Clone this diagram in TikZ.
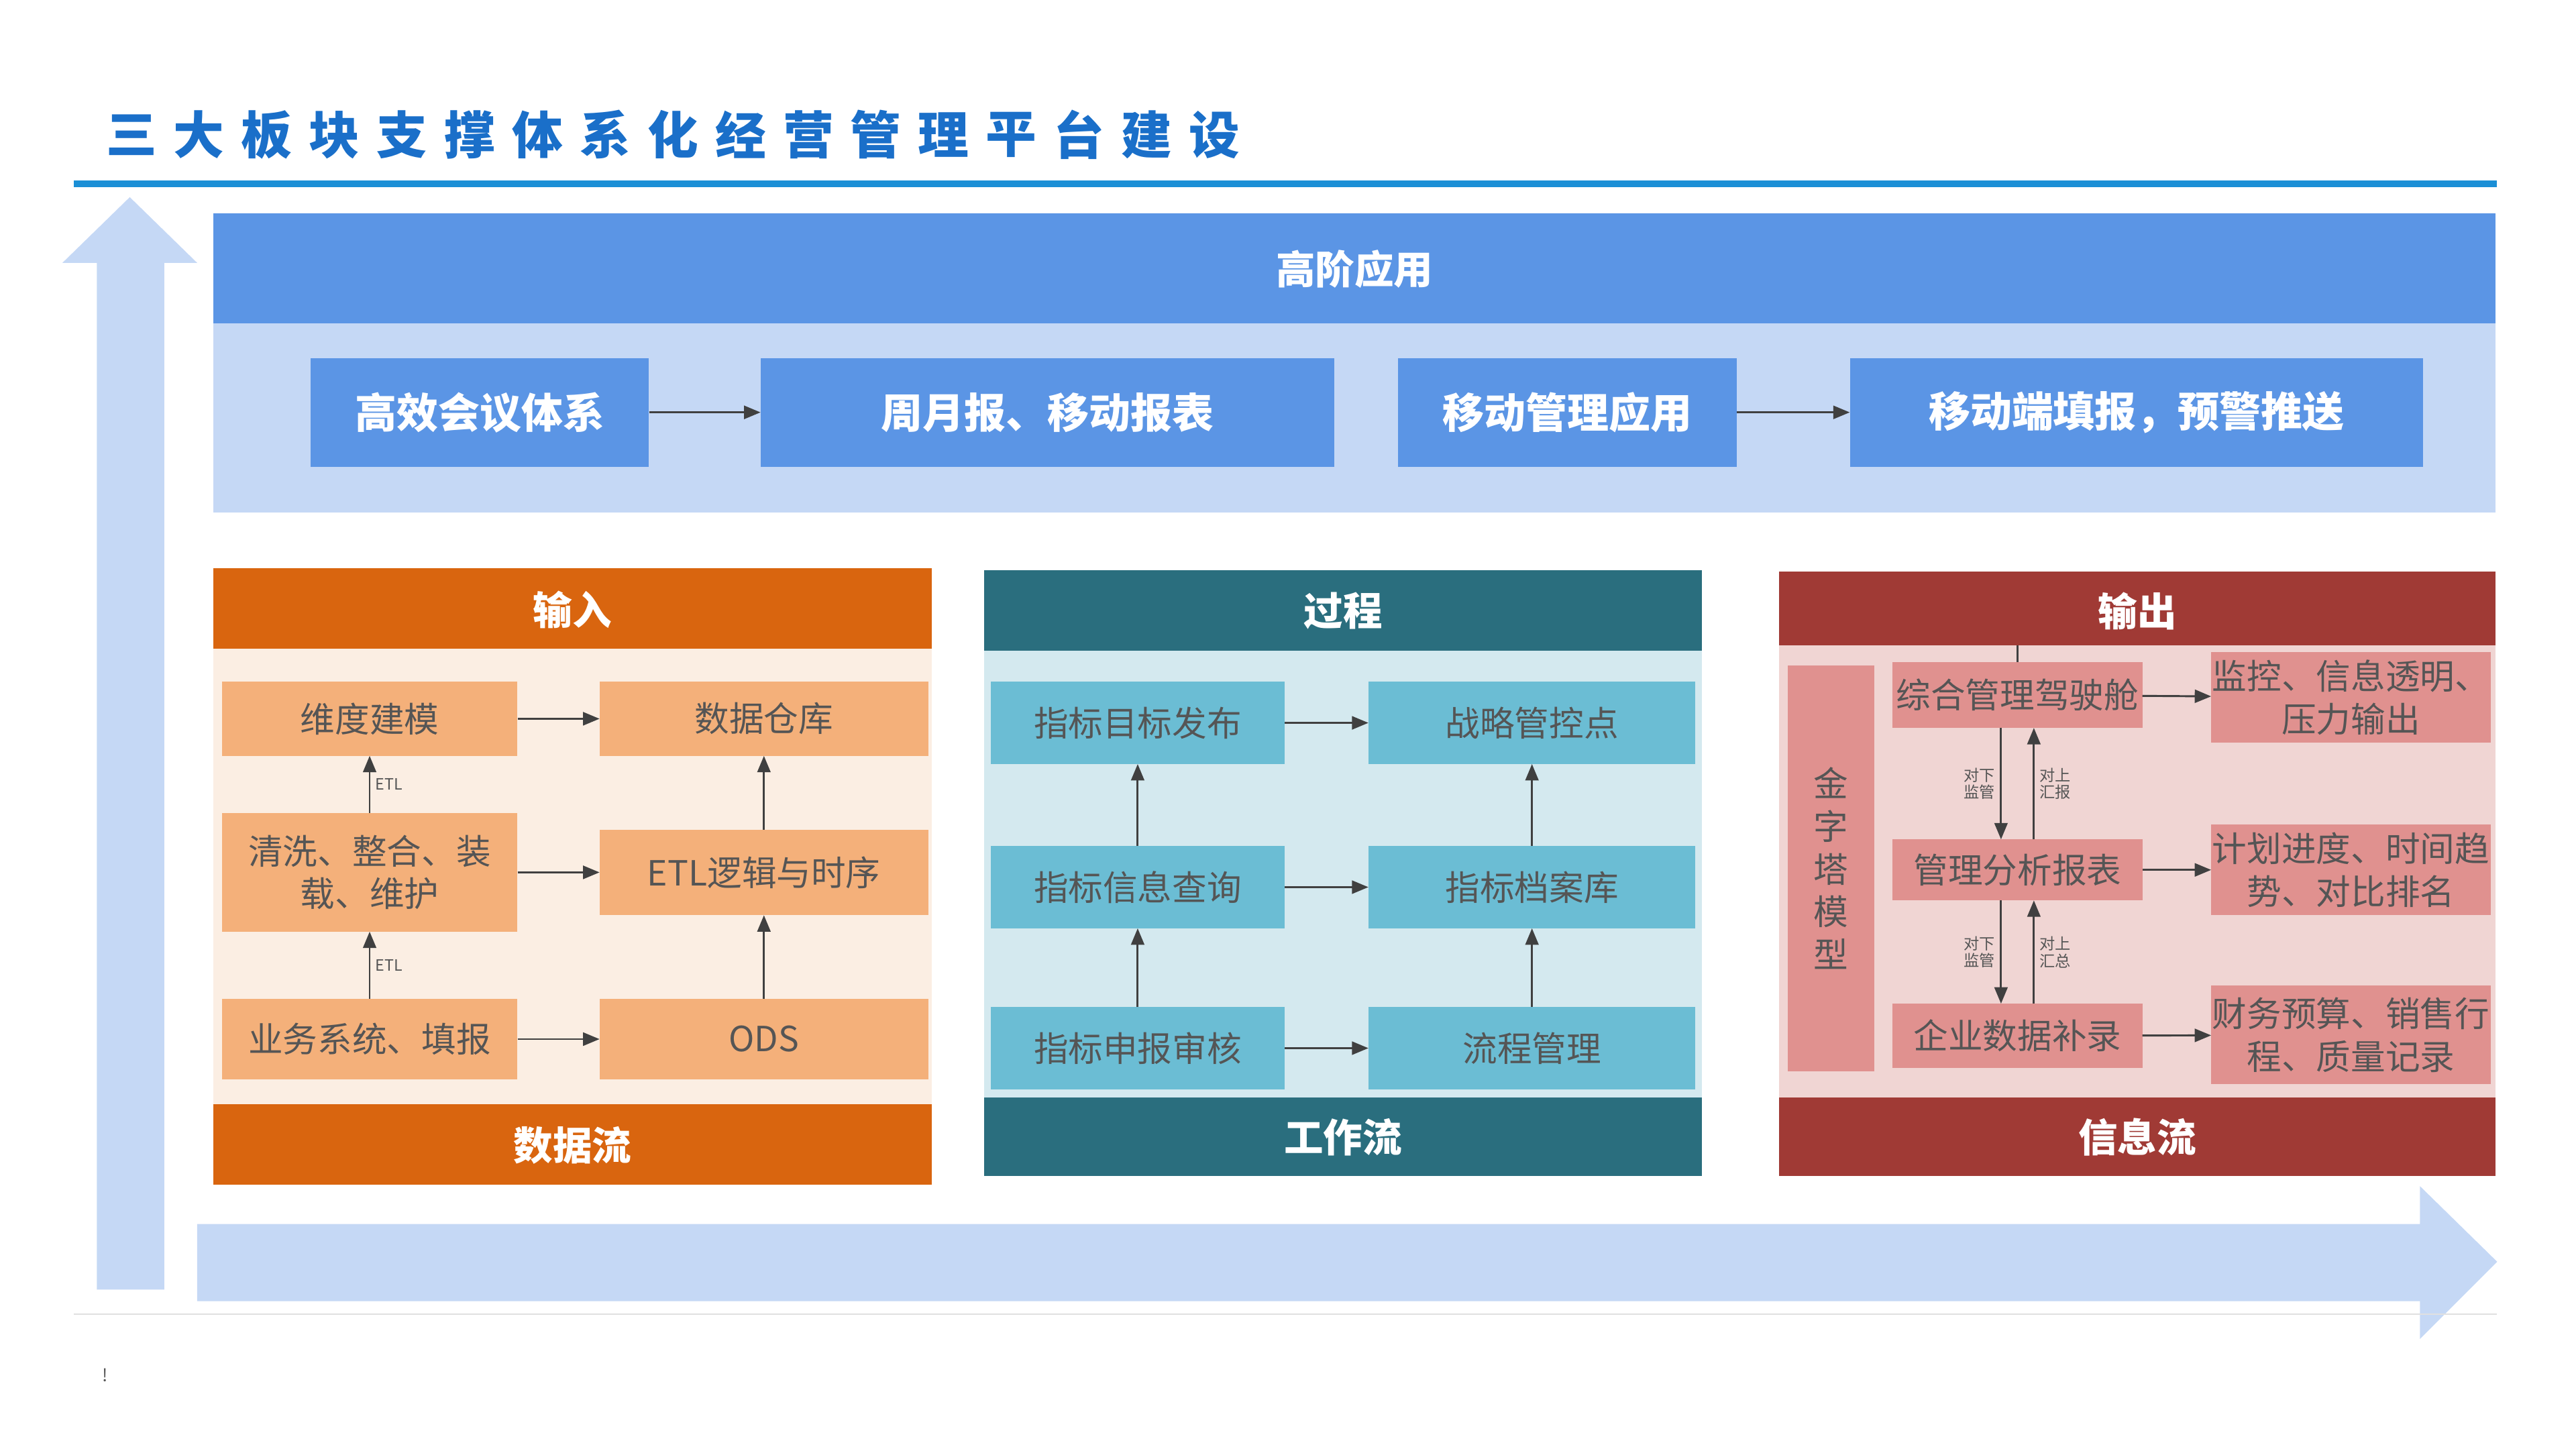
\documentclass[tikz,border=0pt]{standalone}
\usepackage{fontspec}
\setmainfont{Noto Sans CJK SC}
\usepackage{tikz}
\usetikzlibrary{arrows.meta}
\definecolor{titleblue}{HTML}{1A6FC9}
\definecolor{lineblue}{HTML}{1B8FD6}
\definecolor{paleblue}{HTML}{C5D8F5}
\definecolor{midblue}{HTML}{5B95E5}
\definecolor{orhead}{HTML}{D9650F}
\definecolor{orbody}{HTML}{FBEEE3}
\definecolor{orbox}{HTML}{F4B07A}
\definecolor{tlhead}{HTML}{2A6E7E}
\definecolor{tlbody}{HTML}{D4E9EF}
\definecolor{tlbox}{HTML}{6BBDD4}
\definecolor{rdhead}{HTML}{A03A35}
\definecolor{rdbody}{HTML}{F0D5D3}
\definecolor{rdbox}{HTML}{E0918F}
\definecolor{ink}{HTML}{555555}
\tikzset{
  hdtext/.style={text=white,font=\fontsize{68}{68}\selectfont\bfseries},
  bluebox/.style={fill=midblue,inner sep=0,text=white,font=\fontsize{72}{72}\selectfont\bfseries},
  panelbox/.style={inner sep=0,text=ink,align=center,font=\fontsize{60}{74}\selectfont},
  smalltxt/.style={text=ink,align=center,inner sep=0,font=\fontsize{27}{30}\selectfont},
  flow/.style={-{Triangle[length=10mm,width=8mm]},line width=1.2mm,black!75},
}
\begin{document}
\begin{tikzpicture}[x=1mm,y=-1mm]
            \useasboundingbox (0,0) rectangle (1568,882);
            % Title
            \foreach \c [count=\i] in {三,大,板,块,支,撑,体,系,化,经,营,管,理,平,台,建,设}
              \node[text=titleblue,font=\fontsize{88}{88}\selectfont\bfseries] (t\i) at (80+41.2*\i-41.2,82) {\c};
            \draw[lineblue,line width=4mm] (45,112) -- (1520,112);

            % Big arrows
            \fill[paleblue] (59,785) -- (59,160) -- (38,160) -- (79,120) -- (120,160) -- (100,160) -- (100,785) -- cycle;
            \fill[paleblue] (120,745) -- (1473,745) -- (1473,722) -- (1520,768) -- (1473,815) -- (1473,792) -- (120,792) -- cycle;
            \draw[black!12,line width=1mm] (45,800) -- (1520,800);
            \node[text=ink,font=\fontsize{30}{30}\selectfont] (mark) at (64,837) {!};

            % High level applications
            \fill[paleblue] (130,130) rectangle (1519,312);
            \fill[midblue] (130,130) rectangle (1519,197);
            \node[hdtext] (high) at (824.5,164) {高阶应用};
            \node[bluebox,minimum width=206mm,minimum height=66mm] (a1) at (292,251) {高效会议体系};
            \node[bluebox,minimum width=349mm,minimum height=66mm] (a2) at (637.5,251) {周月报、移动报表};
            \node[bluebox,minimum width=206mm,minimum height=66mm] (a3) at (954,251) {移动管理应用};
            \node[bluebox,minimum width=349mm,minimum height=66mm] (a4) at (1300.5,251) {移动端填报，预警推送};
            \draw[flow] (a1) -- (a2);
            \draw[flow] (a3) -- (a4);

            % Input / data flow
            \fill[orbody] (130,395) rectangle (567,672);
            \fill[orhead] (130,346) rectangle (567,395);
            \fill[orhead] (130,672) rectangle (567,721);
            \node[hdtext] (inhd) at (348.5,371) {输入};
            \node[hdtext] (inft) at (348.5,697) {数据流};
            \begin{scope}[every node/.append style={panelbox,fill=orbox}]
              \node[minimum width=180mm,minimum height=45mm] (d1) at (225,437.5) {维度建模};
              \node[minimum width=200mm,minimum height=45mm] (w1) at (465,437.5) {数据仓库};
              \node[minimum width=180mm,minimum height=72mm] (d2) at (225,531) {清洗、整合、装\\载、维护};
              \node[minimum width=200mm,minimum height=52mm] (w2) at (465,531) {ETL逻辑与时序};
              \node[minimum width=180mm,minimum height=49mm] (d3) at (225,632.5) {业务系统、填报};
              \node[minimum width=200mm,minimum height=49mm] (w3) at (465,632.5) {ODS};
            \end{scope}
            \draw[flow] (d1) -- (w1);
            \draw[flow] (d2) -- (w2);
            \draw[flow] (d3) -- (w3);
            \draw[flow] (d2) -- node[smalltxt,right=3mm] (etl1) {ETL} (d1);
            \draw[flow] (d3) -- node[smalltxt,right=3mm] (etl2) {ETL} (d2);
            \draw[flow] (w2) -- (w1);
            \draw[flow] (w3) -- (w2);

            % Process / work flow
            \fill[tlbody] (599,396) rectangle (1036,668);
            \fill[tlhead] (599,347) rectangle (1036,396);
            \fill[tlhead] (599,668) rectangle (1036,716);
            \node[hdtext] (prhd) at (817.5,372) {过程};
            \node[hdtext] (prft) at (817.5,692) {工作流};
            \begin{scope}[every node/.append style={panelbox,fill=tlbox}]
              \node[minimum width=179mm,minimum height=50mm] (p1) at (692.5,440) {指标目标发布};
              \node[minimum width=199mm,minimum height=50mm] (q1) at (932.5,440) {战略管控点};
              \node[minimum width=179mm,minimum height=50mm] (p2) at (692.5,540) {指标信息查询};
              \node[minimum width=199mm,minimum height=50mm] (q2) at (932.5,540) {指标档案库};
              \node[minimum width=179mm,minimum height=50mm] (p3) at (692.5,638) {指标申报审核};
              \node[minimum width=199mm,minimum height=50mm] (q3) at (932.5,638) {流程管理};
            \end{scope}
            \foreach \r in {1,2,3}
              \draw[flow] (p\r) -- (q\r);
            \draw[flow] (p3) -- (p2);
            \draw[flow] (p2) -- (p1);
            \draw[flow] (q3) -- (q2);
            \draw[flow] (q2) -- (q1);

            % Output / information flow
            \fill[rdbody] (1083,393) rectangle (1519,668);
            \fill[rdhead] (1083,348) rectangle (1519,393);
            \fill[rdhead] (1083,668) rectangle (1519,716);
            \node[hdtext] (outhd) at (1301,372) {输出};
            \node[hdtext] (outft) at (1301,692) {信息流};
            \begin{scope}[every node/.append style={panelbox,fill=rdbox}]
              \node[minimum width=53mm,minimum height=247mm] (pyr) at (1114.5,528.5) {金\\字\\塔\\模\\型};
              \node[minimum width=152mm,minimum height=40mm] (m1) at (1228,423) {综合管理驾驶舱};
              \node[minimum width=152mm,minimum height=37mm] (m2) at (1228,529.5) {管理分析报表};
              \node[minimum width=152mm,minimum height=39mm] (m3) at (1228,630.5) {企业数据补录};
              \node[minimum width=170mm,minimum height=55mm] (o1) at (1431,424.5) {监控、信息透明、\\压力输出};
              \node[minimum width=170mm,minimum height=55mm] (o2) at (1431,529.5) {计划进度、时间趋\\势、对比排名};
              \node[minimum width=170mm,minimum height=60mm] (o3) at (1431,630) {财务预算、销售行\\程、质量记录};
            \end{scope}
            \coordinate (top) at (1228,393);
            \draw[black!75,line width=1.2mm] (top) -- (m1.north);
            \foreach \r in {1,2,3}
              \draw[flow] (m\r) -- (o\r);
            \draw[flow] ([xshift=-10mm]m1.south) -- node[smalltxt,left=3mm] (dn1) {对下\\监管} ([xshift=-10mm]m2.north);
            \draw[flow] ([xshift=10mm]m2.north) -- node[smalltxt,right=3mm] (up1) {对上\\汇报} ([xshift=10mm]m1.south);
            \draw[flow] ([xshift=-10mm]m2.south) -- node[smalltxt,left=3mm] (dn2) {对下\\监管} ([xshift=-10mm]m3.north);
            \draw[flow] ([xshift=10mm]m3.north) -- node[smalltxt,right=3mm] (up2) {对上\\汇总} ([xshift=10mm]m2.south);
\end{tikzpicture}
\end{document}
